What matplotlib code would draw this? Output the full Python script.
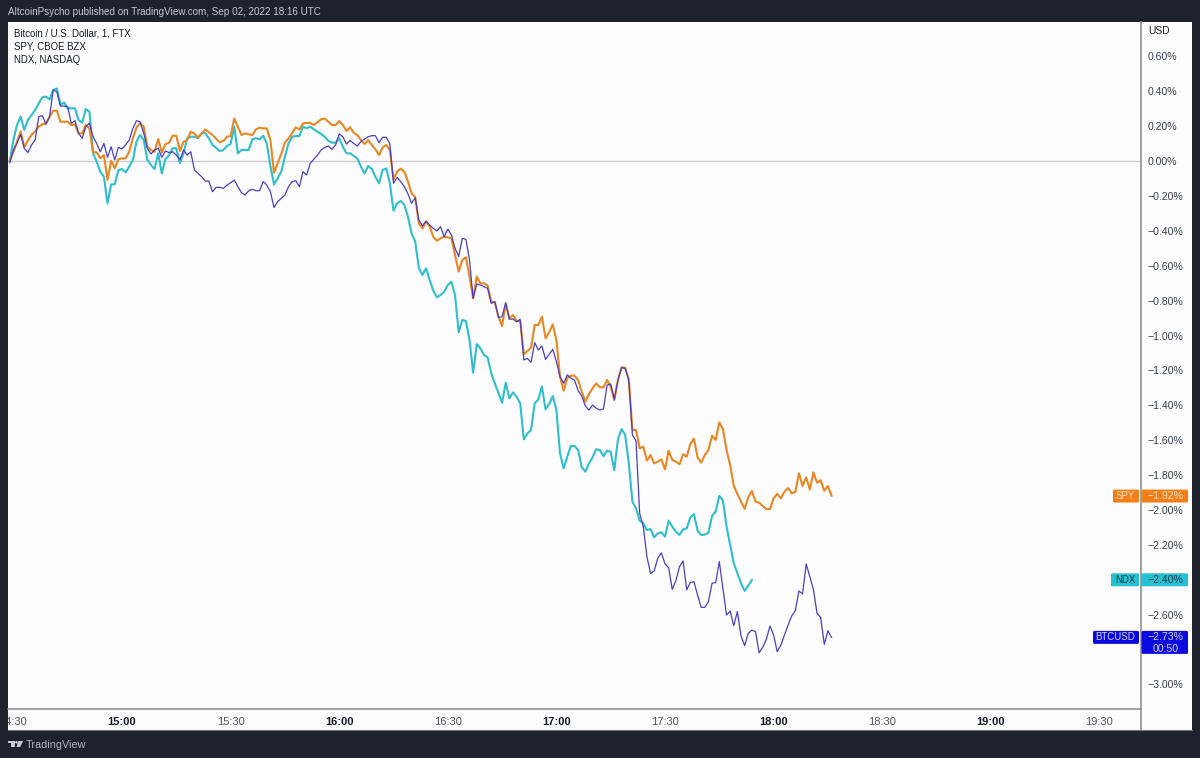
import numpy as np
import matplotlib
matplotlib.use("Agg")
import matplotlib.pyplot as plt
from matplotlib.patches import Rectangle, FancyBboxPatch, Polygon, Circle
from matplotlib.lines import Line2D
from matplotlib.transforms import Affine2D, Bbox

FONT = "Liberation Sans"
plt.rcParams["font.family"] = [FONT, "DejaVu Sans"]

# Percent change per 1-minute sample, starting at 14:29
spy = [
    0, .053, .11, .17, .08, .117, .15, .17, .197, .21,
    .216, .254, .288, .288, .225, .225, .225, .206, .21, .158,
    .158, .206, .187, .05, .05, .015, .034, -.109, .002, -.042,
    .01, .015, .015, .053, .13, .193, .216, .197, .082, .063,
    .053, .126, .048, .097, .105, .145, .145, .057, .11, .12,
    .168, .158, .134, .158, .181, .164, .149, .128, .107, .115,
    .139, .143, .244, .197, .149, .158, .153, .149, .181, .191,
    .187, .187, .12, -.067, -.013, .04, .105, .13, .159, .193,
    .181, .216, .218, .218, .206, .222, .239, .243, .225, .206,
    .206, .229, .206, .172, .193, .162, .149, .12, .097, .12,
    .092, .067, .034, .078, .092, .063,
    -.105, -.061, -.044, -.061, -.118, -.185, -.208, -.357, -.386, -.348,
    -.376, -.434, -.457, -.443, -.434, -.437, -.443, -.539, -.634, -.567,
    -.552, -.663, -.787, -.663, -.701, -.701, -.714, -.806, -.81, -.892,
    -.946, -.816, -.902, -.883, -.917, -.917, -1.108, -1.089, -1.07, -.94,
    -.94, -.892, -1.016, -.982, -.936, -1.026, -1.236, -1.316, -1.245, -1.23,
    -1.23, -1.255, -1.322, -1.379, -1.335, -1.303, -1.274, -1.297, -1.297, -1.255,
    -1.293, -1.37, -1.255, -1.182, -1.184, -1.255, -1.542, -1.542,
    -1.647, -1.637, -1.717, -1.685, -1.733, -1.723, -1.71, -1.767, -1.66, -1.713,
    -1.723, -1.738, -1.681, -1.694, -1.622, -1.591, -1.698, -1.729, -1.685, -1.656,
    -1.574, -1.599, -1.498, -1.536, -1.656, -1.742, -1.862, -1.908, -1.952, -1.994,
    -1.927, -1.891, -1.952, -1.958, -1.977, -1.996, -1.994, -1.933, -1.908, -1.933,
    -1.895, -1.874, -1.905, -1.897, -1.79, -1.862, -1.813, -1.882, -1.785, -1.844,
    -1.829, -1.89, -1.862, -1.918,
]
ndx = [
    0, .12, .206, .254, .178, .235, .264, .292, .33, .365,
    .369, .353, .407, .416, .321, .336, .302, .302, .302, .235,
    .22, .298, .283, .044, -.004, -.061, -.09, -.243, -.134, -.134,
    -.052, -.046, -.065, -.032, .006, .111, .149, .12, .006, -.023,
    -.046, .044, -.071, .01, .034, .073, .073, -.013, .044, .13,
    .139, .139, .13, .159, .159, .13, .092, .075, .057, .063,
    .086, .097, .197, .044, .063, .063, .063, .124, .13, .124,
    .145, .1, -.03, -.134, -.099, -.061, .025, .101, .139, .143,
    .143, .197, .187, .197, .181, .168, .155, .139, .115, .105,
    .105, .13, .082, .044, .044, .029, .015, -.032, -.071, -.029,
    -.046, -.09, -.128, -.052, -.042, -.128,
    -.285, -.243, -.229, -.252, -.319, -.415, -.462, -.615, -.653, -.615,
    -.682, -.743, -.781, -.768, -.749, -.711, -.692, -.768, -.982, -.911,
    -.917, -1.026, -1.213, -1.049, -1.074, -1.112, -1.125, -1.217, -1.274, -1.331,
    -1.385, -1.27, -1.36, -1.326, -1.351, -1.389, -1.595, -1.561, -1.542, -1.389,
    -1.366, -1.293, -1.423, -1.393, -1.347, -1.427,
    -1.675, -1.761, -1.694, -1.633, -1.633, -1.656, -1.755, -1.78, -1.733, -1.698,
    -1.652, -1.656, -1.691, -1.66, -1.666, -1.771, -1.595, -1.536, -1.57, -1.733,
    -1.952, -1.99, -2.061, -2.076, -2.115, -2.109, -2.157, -2.134, -2.128, -2.153,
    -2.061, -2.095, -2.124, -2.143, -2.111, -2.105, -2.042, -2.023, -2.118, -2.143,
    -2.141, -2.13, -2.034, -2.009, -1.919, -1.946, -2.095, -2.2, -2.305, -2.363,
    -2.42, -2.464, -2.434, -2.401,
]
btc = [
    -.01, .063, .101, .153, .073, .048, .092, .12, .254, .26,
    .21, .254, .407, .397, .315, .315, .311, .216, .231, .159,
    .13, .197, .216, .139, .101, .053, .101, .021, .082, .006,
    .078, .069, .092, .12, .187, .231, .225, .159, .073, .04,
    .063, .073, .021, .057, .048, .053, .034, .006, .063, .034,
    .053, -.052, -.071, -.09, -.115, -.115, -.176, -.151, -.151, -.157,
    -.138, -.125, -.109, -.147, -.181, -.195, -.17, -.162, -.17, -.17,
    -.118, -.138, -.176, -.266, -.233, -.214, -.195, -.147, -.118, -.113,
    -.147, -.061, -.08, -.013, .01, .034, .063, .078, .086, .067,
    .092, .155, .139, .097, .117, .101, .086, .111, .126, .139,
    .145, .145, .105, .136, .136, .097,
    -.128, -.094, -.118, -.147, -.189, -.243, -.21, -.338, -.372, -.344,
    -.367, -.386, -.401, -.376, -.434, -.39, -.424, -.5, -.548, -.443,
    -.449, -.567, -.787, -.705, -.711, -.72, -.73, -.816, -.806, -.896,
    -.892, -.812, -.907, -.905, -.921, -.907, -1.14, -1.131, -1.154, -1.041,
    -1.083, -1.06, -1.137, -1.108, -1.079, -1.15, -1.236, -1.274, -1.226, -1.245,
    -1.255, -1.316, -1.347, -1.404, -1.427, -1.398, -1.417, -1.427, -1.421, -1.284,
    -1.278, -1.366, -1.255, -1.184, -1.188, -1.255, -1.57, -1.605,
    -2.019, -2.095, -2.267, -2.363, -2.35, -2.277, -2.245, -2.309, -2.33, -2.455,
    -2.405, -2.325, -2.292, -2.458, -2.415, -2.411, -2.487, -2.558, -2.558, -2.525,
    -2.42, -2.416, -2.296, -2.449, -2.602, -2.579, -2.663, -2.582, -2.722, -2.777,
    -2.707, -2.688, -2.697, -2.818, -2.787, -2.741, -2.665, -2.716, -2.812, -2.774,
    -2.716, -2.659, -2.607, -2.577, -2.464, -2.481, -2.309, -2.382, -2.455, -2.592,
    -2.615, -2.77, -2.692, -2.73,
]

time_ticks = [0, 30, 60, 90, 120, 150, 180, 210, 240, 270, 300]
time_labels = ["14:30", "15:00", "15:30", "16:00", "16:30", "17:00", "17:30",
               "18:00", "18:30", "19:00", "19:30"]
bold_labels = {"15:00", "16:00", "17:00", "18:00", "19:00"}
pct_ticks = [0.6, 0.4, 0.2, 0.0, -0.2, -0.4, -0.6, -0.8, -1.0, -1.2, -1.4, -1.6,
             -1.8, -2.0, -2.2, -2.6, -3.0]
legend_lines = ["Bitcoin / U.S. Dollar, 1, FTX", "SPY, CBOE BZX", "NDX, NASDAQ"]
last_values = [("SPY", -1.92, "#f57f17", "#fbe3c8"), ("NDX", -2.40, "#26c0d3", "#123a44"),
               ("BTCUSD", -2.73, "#0a0ae0", "#d5d5fb")]

W, H = 1200, 758
DARK = "#1e222d"
PANE = "#fdfdff"
GREY = "#8f9094"
TXT = "#3a3e49"
px = Affine2D().scale(1, -1).translate(0, H)

def pct_text(v):
    return f"{v:.2f}%".replace("-", "\u2212")

fig = plt.figure(figsize=(W / 100, H / 100), dpi=100, facecolor=DARK)
fig.add_artist(Rectangle((8, 22), 1184, 708, transform=px, fc=PANE, ec="none", zorder=0))

ax = fig.add_axes([8 / W, 1 - 709 / H, (1141 - 8) / W, (709 - 22) / H], facecolor=PANE, zorder=1)
ax.set_xlim((8 - 13.4) / 3.62, (1141 - 13.4) / 3.62)
ax.set_ylim(-(709 - 161) / 174.5, (161 - 22) / 174.5)

def minutes(series):
    return np.arange(len(series)) - 1

ax.axhline(0, color="#cbcbd0", lw=1.0, zorder=1)
ax.plot(minutes(ndx), ndx, color="#2fbfcc", lw=1.5, zorder=3, solid_joinstyle="round")
ax.plot(minutes(spy), spy, color="#e8871f", lw=1.5, zorder=4, solid_joinstyle="round")
ax.plot(minutes(btc), btc, color="#4a40bd", lw=0.9, zorder=5, solid_joinstyle="round")

for s in ("top", "left"):
    ax.spines[s].set_visible(False)
for s in ("bottom", "right"):
    ax.spines[s].set_color(GREY)
    ax.spines[s].set_linewidth(1.2)

ax.yaxis.tick_right()
ax.set_yticks(pct_ticks)
ax.set_yticklabels([pct_text(v) for v in pct_ticks], fontsize=7.6, color=TXT)
ax.tick_params(axis="y", length=0, pad=5)
ax.set_xticks(time_ticks)
ax.set_xticklabels(time_labels, fontsize=8, color="#50535e")
ax.tick_params(axis="x", length=0, pad=6)
clip = Bbox([[8, 0], [1141, H]])
for lab in ax.get_xticklabels():
    if lab.get_text() in bold_labels:
        lab.set_fontweight("bold")
        lab.set_color("#131722")
    lab.set_clip_on(True)
    lab.set_clip_box(clip)

fig.add_artist(Line2D([1141, 1141], [709, 730], transform=px, color=GREY, lw=1.2, zorder=2))
fig.add_artist(Line2D([8, 1192], [730, 730], transform=px, color="#6f7278", lw=0.8, zorder=2))

fig.text(8, 12, "AltcoinPsycho published on TradingView.com, Sep 02, 2022 18:16 UTC",
         transform=px, color="#c9cbd1", fontsize=7.1, va="center", ha="left")
for y, line in zip((33, 46.5, 60), legend_lines):
    fig.text(14, y, line, transform=px, color="#131722", fontsize=6.95, va="center", ha="left", zorder=6)
fig.text(1148, 31.5, "USD", transform=px, color="#131722", fontsize=7.4, va="center", ha="left", zorder=6)

fig.canvas.draw()
for name, val, bg, fg in last_values:
    yc = H - ax.transData.transform((0, val))[1]
    two = name == "BTCUSD"
    wname = {"SPY": 26, "NDX": 28, "BTCUSD": 46}[name]
    fig.add_artist(FancyBboxPatch((1139 - wname, yc - 6.5), wname, 13, transform=px, fc=bg, ec="none",
                                  boxstyle="round,pad=0,rounding_size=1.5", zorder=7))
    fig.add_artist(FancyBboxPatch((1141.5, yc - 6.5), 46.5, 23 if two else 13, transform=px, fc=bg, ec="none",
                                  boxstyle="round,pad=0,rounding_size=1.5", zorder=7))
    fig.text(1135, yc, name, transform=px, color=fg, fontsize=6.9, ha="right", va="center", zorder=8)
    fig.text(1165.5, yc, pct_text(val), transform=px, color=fg, fontsize=7.6,
             ha="center", va="center", zorder=8)
    if two:
        fig.text(1165.5, yc + 11.5, "00:50", transform=px, color=fg, fontsize=7.6, ha="center", va="center", zorder=8)

# TradingView footer mark
LOGO = "#c9cbd1"
fig.add_artist(Polygon([(8, 741), (14.5, 741), (14.5, 747), (11, 747), (11, 743.2), (8, 743.2)],
                       transform=px, fc=LOGO, ec="none", zorder=3))
fig.add_artist(Circle((16.4, 742.3), 1.3, transform=px, fc=LOGO, ec="none", zorder=3))
fig.add_artist(Polygon([(18.2, 741), (23, 741), (20.2, 747), (16.6, 747)], transform=px, fc=LOGO, ec="none", zorder=3))
fig.text(26, 744.5, "TradingView", transform=px, color="#b2b5be", fontsize=7.8, va="center", ha="left")

fig.savefig("out.png", dpi=100, facecolor=DARK)
